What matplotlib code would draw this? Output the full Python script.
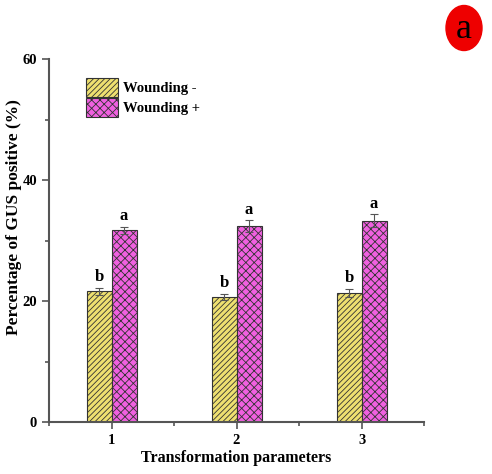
import matplotlib
matplotlib.use("Agg")
import matplotlib.pyplot as plt
from matplotlib.patches import Ellipse
from matplotlib.ticker import MultipleLocator, FixedLocator

plt.rcParams["font.family"] = ["Liberation Serif", "DejaVu Serif"]
plt.rcParams["font.weight"] = "bold"
plt.rcParams["hatch.linewidth"] = 0.6

# data
groups = [1, 2, 3]
wound_minus = [21.6, 20.7, 21.3]
wound_minus_err = [0.6, 0.5, 0.7]
wound_plus = [31.7, 32.4, 33.3]
wound_plus_err = [0.6, 1.0, 1.0]
letters_minus = ["b", "b", "b"]
letters_plus = ["a", "a", "a"]

yellow = "#EEE070"
pink = "#F060E0"
axis_gray = "#555555"

fig = plt.figure(figsize=(4.92, 4.74), dpi=100)
ax = fig.add_axes([0.0996, 0.1097, 0.7624, 0.7658])

width = 0.2
xm = [g - width / 2 for g in groups]
xp = [g + width / 2 for g in groups]

ax.bar(xm, wound_minus, width, color=yellow, edgecolor="#333333",
       linewidth=0.8, hatch="//////", label="Wounding -")
ax.bar(xp, wound_plus, width, color=pink, edgecolor="#333333",
       linewidth=0.8, hatch="xxxx", label="Wounding +")
ax.errorbar(xm, wound_minus, yerr=wound_minus_err, fmt="none",
            ecolor="#555555", elinewidth=0.8, capsize=3, capthick=0.8)
ax.errorbar(xp, wound_plus, yerr=wound_plus_err, fmt="none",
            ecolor="#555555", elinewidth=0.8, capsize=3, capthick=0.8)

for x, v, e, t in zip(xm, wound_minus, wound_minus_err, letters_minus):
    ax.text(x, v + e + 0.4, t, ha="center", va="bottom", fontsize=12,
            fontweight="bold")
for x, v, e, t in zip(xp, wound_plus, wound_plus_err, letters_plus):
    ax.text(x, v + e + 0.4, t, ha="center", va="bottom", fontsize=12,
            fontweight="bold")

ax.set_xlim(0.5, 3.5)
ax.set_ylim(0, 60)
ax.set_xticks(groups)
ax.xaxis.set_minor_locator(FixedLocator([0.5, 1.5, 2.5, 3.5]))
ax.yaxis.set_major_locator(MultipleLocator(20))
ax.yaxis.set_minor_locator(MultipleLocator(10))

for side in ["top", "right"]:
    ax.spines[side].set_visible(False)
for side in ["left", "bottom"]:
    ax.spines[side].set_color(axis_gray)
    ax.spines[side].set_linewidth(1.5)

ax.tick_params(axis="both", which="major", direction="out", length=5,
               width=1.2, color=axis_gray, labelsize=10.5)
ax.tick_params(axis="both", which="minor", direction="out", length=3,
               width=1.2, color=axis_gray)

ax.set_xlabel("Transformation parameters", fontsize=11.5, fontweight="bold",
              labelpad=2)
ax.set_ylabel("Percentage of GUS positive (%)", fontsize=12.5,
              fontweight="bold")
ax.yaxis.set_label_coords(-0.072, 0.565)

ax.legend(loc="upper left", bbox_to_anchor=(0.099, 0.948), frameon=False,
          fontsize=10.5, handlelength=2.2, handleheight=1.6,
          labelspacing=0.1, handletextpad=0.3, borderpad=0,
          borderaxespad=0)

# panel label
badge = Ellipse((464 / 492, 1 - 28 / 474), 36 / 492, 45 / 474,
                transform=fig.transFigure, color="#EE0000", zorder=5)
fig.patches.append(badge)
fig.text(464 / 492, 1 - 30 / 474, "a", ha="center", va="center",
         fontsize=26, fontweight="normal", color="black", zorder=6)

fig.savefig("out.png", dpi=100)
